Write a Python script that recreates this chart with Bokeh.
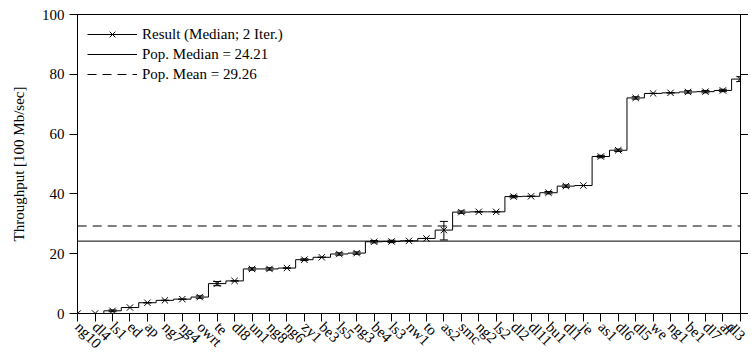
import math
from bokeh.plotting import figure
from bokeh.models import (Range1d, ColumnDataSource, Whisker, TeeHead,
                          Legend, LegendItem, LinearAxis, FixedTicker)
from bokeh.embed import file_html
from bokeh.resources import INLINE

categories = ["ng10", "dl4", "ls1", "ed", "ap", "ng7", "ng4", "owrt", "te", "dl8",
              "un1", "ng8", "ng6", "zy1", "be3", "ls5", "ng3", "be4", "ls3", "nw1",
              "to", "as2", "smc", "ng2", "ls2", "dl2", "dl11", "bu1", "dl1", "je",
              "as1", "dl6", "dl5", "we", "ng1", "be1", "dl7", "al", "dl3"]
medians = [0.0, 0.0, 0.9, 2.0, 3.6, 4.4, 4.8, 5.5, 10.0, 10.9,
           14.9, 14.9, 15.2, 18.0, 18.8, 19.9, 20.2, 24.0, 24.1, 24.3,
           25.1, 27.9, 33.9, 34.0, 34.0, 39.1, 39.2, 40.4, 42.6, 42.8,
           52.5, 54.6, 72.1, 73.6, 73.8, 74.1, 74.2, 74.6, 78.4]
lows = [0.0, 0.0, 0.6, 2.0, 3.6, 4.4, 4.8, 5.1, 9.3, 10.9,
        14.5, 14.5, 15.2, 17.7, 18.8, 19.5, 19.8, 23.6, 23.7, 24.3,
        25.1, 24.6, 33.5, 34.0, 34.0, 38.7, 39.2, 40.0, 42.2, 42.8,
        52.1, 54.2, 71.7, 73.6, 73.8, 73.7, 73.8, 74.2, 77.6]
highs = [0.0, 0.0, 1.2, 2.0, 3.6, 4.4, 4.8, 5.9, 10.7, 10.9,
         15.3, 15.3, 15.2, 18.3, 18.8, 20.3, 20.6, 24.4, 24.5, 24.3,
         25.1, 30.8, 34.3, 34.0, 34.0, 39.5, 39.2, 40.8, 43.0, 42.8,
         52.9, 55.0, 72.5, 73.6, 73.8, 74.5, 74.6, 75.0, 79.2]
pop_median = 24.21
pop_mean = 29.26
y_ticks = [0, 20, 40, 60, 80, 100]
y_max = 100

FONT = "Liberation Serif"
FS = "15px"

n = len(categories)
positions = list(range(n))  # category index along x
src = ColumnDataSource(dict(xi=positions, med=medians, lo=lows, hi=highs))

p = figure(width=748, height=360, x_range=Range1d(-0.01, n - 1 + 0.01), y_range=Range1d(0, y_max),
           output_backend="svg", toolbar_location=None, title_location=None,
           min_border_left=77, min_border_right=8, min_border_top=14, min_border_bottom=10)
p.xgrid.visible = False
p.ygrid.visible = False
p.outline_line_color = "black"
p.outline_line_width = 1
p.background_fill_color = "white"
p.border_fill_color = "white"

step_r = p.step(x="xi", y="med", source=src, mode="center", line_color="black", line_width=1)
scat_r = p.scatter(x="xi", y="med", source=src, marker="x", size=9, line_color="black", line_width=1)
p.add_layout(Whisker(base="xi", upper="hi", lower="lo", source=src, line_color="black", line_width=1,
                     upper_head=TeeHead(size=8, line_color="black"),
                     lower_head=TeeHead(size=8, line_color="black")))

med_r = p.line(x=[positions[0], positions[-1]], y=[pop_median, pop_median], line_color="black", line_width=1)
mean_r = p.line(x=[positions[0], positions[-1]], y=[pop_mean, pop_mean], line_color="black",
                line_width=1, line_dash="9 6")

legend = Legend(items=[
    LegendItem(label="Result (Median; 2 Iter.)", renderers=[step_r, scat_r]),
    LegendItem(label="Pop. Median = %.2f" % pop_median, renderers=[med_r]),
    LegendItem(label="Pop. Mean = %.2f" % pop_mean, renderers=[mean_r]),
], location="top_left")
legend.border_line_color = None
legend.background_fill_alpha = 0
legend.label_text_font = FONT
legend.label_text_font_size = FS
legend.label_text_color = "black"
legend.glyph_width = 50
legend.glyph_height = 20
legend.spacing = 0
legend.padding = 4
legend.margin = 10
legend.label_standoff = 5
p.add_layout(legend)

def style(ax):
    ax.axis_line_color = "black"
    ax.major_tick_line_color = "black"
    ax.major_tick_out = 8
    ax.major_tick_in = 0
    ax.minor_tick_out = 0
    ax.minor_tick_in = 0
    ax.major_label_text_font = FONT
    ax.major_label_text_font_size = FS
    ax.major_label_text_color = "black"

xa = p.xaxis[0]
style(xa)
xa.ticker = FixedTicker(ticks=positions)
xa.major_label_overrides = {i: c for i, c in zip(positions, categories)}
xa.major_label_orientation = -math.pi / 4
xa.major_label_standoff = 3

ya = p.yaxis[0]
style(ya)
ya.ticker = FixedTicker(ticks=y_ticks)
ya.axis_label = "Throughput [100 Mb/sec]"
ya.axis_label_text_font = FONT
ya.axis_label_text_font_size = FS
ya.axis_label_text_font_style = "normal"
ya.axis_label_text_color = "black"
ya.major_label_standoff = 5
ya.axis_label_standoff = 12

# mirrored ticks along the top border: an axis pinned at the top of the y range,
# ticks pointing upward (outside the frame), no labels, takes no panel space
top = LinearAxis(ticker=FixedTicker(ticks=positions), fixed_location=y_max)
style(top)
top.major_tick_out = 0
top.major_tick_in = 8
top.major_label_text_font_size = "1px"
top.major_label_text_color = None
top.major_label_standoff = 0
p.add_layout(top, "below")

right = LinearAxis(ticker=FixedTicker(ticks=y_ticks))
style(right)
right.major_label_text_font_size = "1px"
right.major_label_text_color = None
right.major_label_standoff = 0
p.add_layout(right, "right")

open("out.html", "w").write(file_html(p, INLINE))
